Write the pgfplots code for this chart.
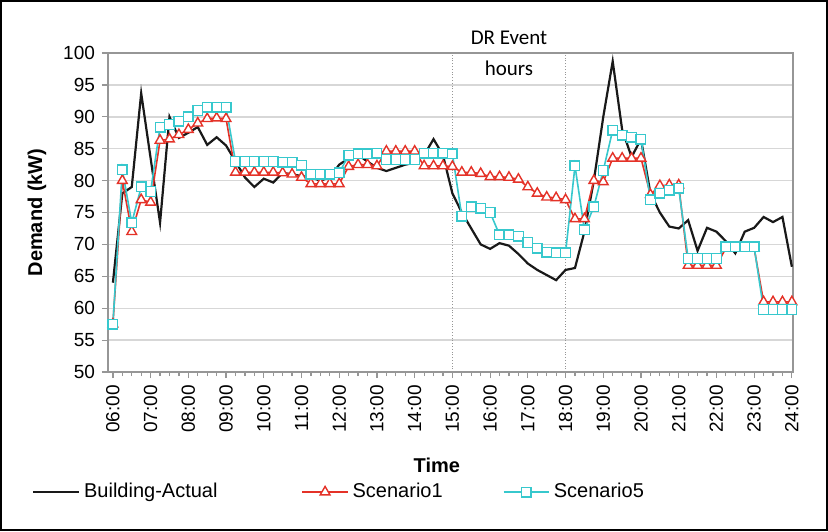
\documentclass[border=0pt]{standalone}
\usepackage{fontspec}
\setmainfont{Liberation Sans}
\newfontfamily\carlito{Carlito}
\usepackage{pgfplots}
\pgfplotsset{compat=1.18}
\usepackage{pgfplotstable}

\definecolor{actual}{RGB}{25,25,25}
\definecolor{scone}{RGB}{228,50,40}
\definecolor{scfive}{RGB}{55,200,205}
\definecolor{gridc}{RGB}{215,215,215}
\definecolor{framec}{RGB}{150,150,150}

% time in hours, building actual, scenario 1, scenario 5 (kW)
\pgfplotstableread{
t     a     s1    s5
6.00  64.0  57.5  57.5
6.25  78.0  80.0  81.7
6.50  79.0  72.0  73.4
6.75  93.7  77.0  79.0
7.00  83.5  76.6  78.3
7.25  73.4  86.3  88.4
7.50  90.0  86.5  88.8
7.75  86.7  87.2  89.3
8.00  87.5  88.0  90.0
8.25  88.4  89.0  91.0
8.50  85.6  89.7  91.5
8.75  86.8  89.8  91.5
9.00  85.5  89.7  91.5
9.25  83.0  81.3  83.0
9.50  80.5  81.3  83.0
9.75  79.0  81.3  83.0
10.00 80.3  81.3  83.0
10.25 79.7  81.3  83.0
10.50 81.2  81.2  82.9
10.75 81.0  81.0  82.9
11.00 80.7  80.5  82.4
11.25 80.5  79.5  81.0
11.50 80.0  79.5  81.0
11.75 80.5  79.5  81.0
12.00 82.5  79.5  81.2
12.25 83.5  82.2  84.0
12.50 84.0  82.5  84.2
12.75 83.0  82.5  84.2
13.00 82.0  82.3  84.3
13.25 81.5  84.6  83.3
13.50 82.0  84.6  83.3
13.75 82.5  84.6  83.3
14.00 82.8  84.6  83.3
14.25 84.0  82.3  84.3
14.50 86.5  82.3  84.3
14.75 84.0  82.3  84.3
15.00 78.0  82.2  84.2
15.25 75.0  81.3  74.4
15.50 72.5  81.3  75.9
15.75 70.0  81.1  75.7
16.00 69.3  80.6  75.0
16.25 70.2  80.6  71.5
16.50 69.8  80.5  71.5
16.75 68.5  80.2  71.3
17.00 67.0  79.0  70.3
17.25 66.0  78.0  69.4
17.50 65.2  77.4  68.8
17.75 64.4  77.3  68.7
18.00 66.0  77.0  68.7
18.25 66.3  74.0  82.3
18.50 72.0  74.0  72.3
18.75 80.0  80.0  75.9
19.00 90.0  79.8  81.6
19.25 98.7  83.5  87.9
19.50 88.0  83.5  87.1
19.75 83.7  83.5  86.8
20.00 86.5  83.5  86.5
20.25 78.0  77.8  77.0
20.50 75.0  79.2  78.0
20.75 72.8  79.3  78.5
21.00 72.5  79.3  78.8
21.25 73.8  66.7  67.8
21.50 69.0  66.7  67.8
21.75 72.6  66.7  67.8
22.00 72.0  66.7  67.8
22.25 70.5  69.4  69.6
22.50 68.6  69.4  69.6
22.75 72.0  69.4  69.6
23.00 72.6  69.4  69.6
23.25 74.3  61.0  59.8
23.50 73.5  61.0  59.8
23.75 74.3  61.0  59.8
24.00 66.5  61.0  59.8
}\demand

\begin{document}
\begin{tikzpicture}
\begin{axis}[
  scale only axis,
  width=342.5pt, height=159.5pt,
  xmin=5.87, xmax=24.03,
  ymin=50, ymax=100,
  ytick={50,55,...,100},
  xtick={6,...,24},
  xticklabels={06:00,07:00,08:00,09:00,10:00,11:00,12:00,13:00,14:00,15:00,16:00,17:00,18:00,19:00,20:00,21:00,22:00,23:00,24:00},
  minor x tick num=3,
  xtick pos=bottom, ytick pos=left,
  tick align=outside,
  major tick length=3pt, minor tick length=2pt,
  tick style={framec, line width=0.6pt},
  axis line style={framec, line width=0.8pt},
  ymajorgrids,
  grid style={gridc, line width=0.7pt},
  x tick label style={rotate=90, anchor=east, font=\fontsize{9.5}{10}\selectfont},
  y tick label style={font=\fontsize{9.5}{10}\selectfont},
  /pgf/number format/assume math mode=true,
  xlabel={Time},
  ylabel={Demand (kW)},
  every axis x label/.style={at={(axis description cs:0.48,0)}, yshift=-46.5pt, anchor=center,
    font=\bfseries\fontsize{10}{12}\selectfont},
  every axis y label/.style={at={(axis description cs:0,0.5)}, xshift=-35.5pt, rotate=90, anchor=center,
    font=\bfseries\fontsize{10}{12}\selectfont},
  clip=false,
  legend columns=3,
  legend style={at={(axis description cs:0,0)}, anchor=west, xshift=-41pt, yshift=-60pt,
    draw=none, fill=none, font=\fontsize{10}{12}\selectfont,
    /tikz/column 2/.style={column sep=40pt},
    /tikz/column 4/.style={column sep=28pt}},
  legend image code/.code={\draw[mark repeat=2, mark phase=2, #1] plot coordinates {(0cm,0cm) (0.4cm,0cm) (0.8cm,0cm)};},
]
\draw[framec, densely dotted] (axis cs:15,50) -- (axis cs:15,100);
\draw[framec, densely dotted] (axis cs:18,50) -- (axis cs:18,100);
\addplot[actual, line width=1.1pt] table[x=t, y=a] {\demand};
\addlegendentry{Building-Actual}
\addplot[scone, line width=0.8pt, mark=triangle*, mark size=2.8pt,
  mark options={solid, fill=white, draw=scone, line width=0.7pt}] table[x=t, y=s1] {\demand};
\addlegendentry{Scenario1}
\addplot[scfive, line width=0.8pt, mark=square*, mark size=2.4pt,
  mark options={solid, fill=white, draw=scfive, line width=0.7pt}] table[x=t, y=s5] {\demand};
\addlegendentry{Scenario5}
\node[font=\carlito\fontsize{10.5}{12}\selectfont] at (axis cs:16.5,102.4) {DR Event};
\node[font=\carlito\fontsize{10.5}{12}\selectfont] at (axis cs:16.5,97.6) {hours};
\end{axis}
\draw[black, line width=1pt] (-53.5pt,-79pt) rectangle (359.5pt,185.5pt);
\end{tikzpicture}
\end{document}
